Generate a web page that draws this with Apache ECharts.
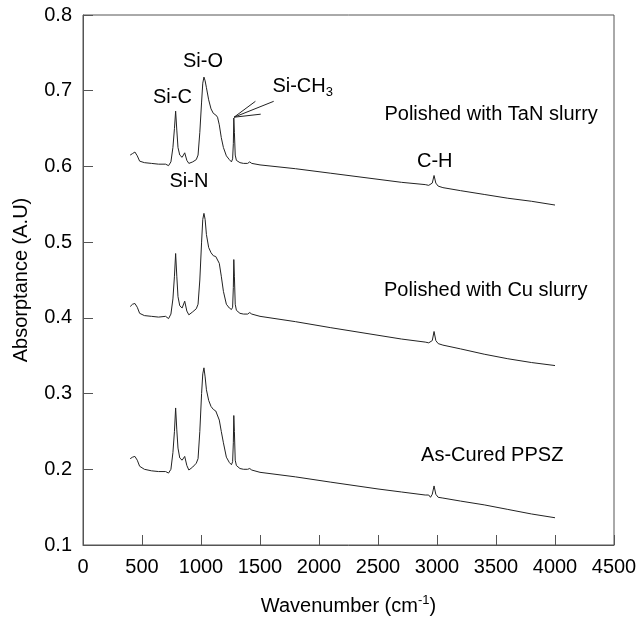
<!DOCTYPE html>
<html>
<head>
<meta charset="utf-8" />
<title>FTIR spectra</title>
<style>
  html, body { margin: 0; padding: 0; background: #fff; }
  #chartBox { width: 640px; height: 624px; }
</style>
</head>
<body>
<div id="chartBox"></div>
<script src="https://cdn.jsdelivr.net/npm/echarts@6/dist/echarts.min.js"></script>
<script>
// wavenumber grid (cm-1), shared by the three spectra
var wavenumber = [400, 420, 440, 460, 480, 520, 580, 640, 700, 725, 745, 762, 775, 785, 795, 805, 820, 840, 862, 880,
  897, 930, 960, 975, 990, 1005, 1015, 1025, 1035, 1046, 1065, 1085, 1105, 1125, 1140, 1155, 1172, 1190, 1215, 1240,
  1258, 1268, 1274, 1278, 1283, 1290, 1300, 1330, 1360, 1395, 1413, 1430, 1500, 1800, 2100, 2500, 2700, 2900, 2930, 2945,
  2960, 2975, 2990, 3010, 3050, 3200, 3400, 3600, 3800, 4000];

var tanSlurry = [0.615, 0.617, 0.619, 0.614, 0.607, 0.605, 0.604, 0.603, 0.603, 0.601, 0.606, 0.625, 0.650, 0.673, 0.648, 0.625, 0.615, 0.612, 0.618, 0.608,
  0.604, 0.606, 0.609, 0.615, 0.645, 0.685, 0.710, 0.718, 0.713, 0.704, 0.688, 0.676, 0.670, 0.668, 0.665, 0.655, 0.638, 0.625, 0.614, 0.609,
  0.606, 0.610, 0.630, 0.664, 0.645, 0.615, 0.608, 0.605, 0.604, 0.604, 0.606, 0.604, 0.602, 0.597, 0.591, 0.583, 0.579, 0.576, 0.575, 0.574,
  0.578, 0.588, 0.578, 0.574, 0.572, 0.568, 0.563, 0.558, 0.554, 0.549];

var cuSlurry = [0.415, 0.418, 0.419, 0.414, 0.406, 0.403, 0.402, 0.401, 0.402, 0.399, 0.405, 0.425, 0.455, 0.485, 0.455, 0.428, 0.416, 0.413, 0.422, 0.409,
  0.404, 0.408, 0.412, 0.418, 0.450, 0.500, 0.530, 0.538, 0.530, 0.510, 0.493, 0.486, 0.482, 0.481, 0.481, 0.472, 0.455, 0.435, 0.418, 0.413,
  0.411, 0.414, 0.440, 0.477, 0.455, 0.418, 0.410, 0.406, 0.405, 0.405, 0.407, 0.405, 0.402, 0.395, 0.387, 0.377, 0.372, 0.368, 0.367, 0.366,
  0.370, 0.382, 0.370, 0.366, 0.364, 0.359, 0.352, 0.346, 0.341, 0.337];

var asCured = [0.214, 0.216, 0.217, 0.212, 0.204, 0.200, 0.198, 0.197, 0.197, 0.195, 0.200, 0.222, 0.250, 0.281, 0.252, 0.228, 0.215, 0.212, 0.217, 0.205,
  0.199, 0.203, 0.208, 0.214, 0.250, 0.300, 0.326, 0.334, 0.322, 0.305, 0.291, 0.283, 0.279, 0.277, 0.275, 0.265, 0.250, 0.235, 0.216, 0.209,
  0.206, 0.210, 0.235, 0.271, 0.250, 0.212, 0.205, 0.201, 0.200, 0.200, 0.201, 0.199, 0.196, 0.190, 0.183, 0.174, 0.170, 0.166, 0.166, 0.163,
  0.167, 0.178, 0.167, 0.163, 0.162, 0.158, 0.153, 0.147, 0.141, 0.136];

// annotations (text, x, y in data units)
var noteText = ['Si-O', 'Si-C', 'Si-N', 'C-H', 'Polished with TaN slurry', 'Polished with Cu slurry', 'As-Cured PPSZ'];
var noteX = [1017, 758, 898, 2981, 3459, 3413, 3468];
var noteY = [0.738, 0.691, 0.580, 0.607, 0.668, 0.4355, 0.2184];

// Si-CH3 label and its three leader lines
var ch3Label = [1605, 0.704];
var leaderFrom = [1280, 0.665];
var leaderTo = [[1461, 0.686], [1616, 0.686], [1506, 0.669]];

var _font = 'Liberation Sans, Arial, sans-serif';
var _fs = 20;

function zip(xs, ys) {
  var out = [];
  for (var i = 0; i < xs.length; i++) out.push([xs[i], ys[i]]);
  return out;
}

function spectrum(name, values) {
  return {
    name: name,
    type: 'line',
    data: zip(wavenumber, values),
    showSymbol: false,
    symbol: 'none',
    smooth: false,
    lineStyle: { color: '#222', width: 1 },
    z: 3
  };
}

var notes = [];
for (var i = 0; i < noteText.length; i++) {
  notes.push({ name: noteText[i], value: [noteX[i], noteY[i]] });
}
notes.push({
  name: 'Si-CH3',
  value: ch3Label,
  label: { align: 'left', formatter: '{n|Si-CH}{s|3}' }
});

var leaders = [];
for (var j = 0; j < leaderTo.length; j++) {
  leaders.push({ coords: [leaderFrom, leaderTo[j]] });
}

var myChart = echarts.init(document.getElementById('chartBox'));
var option = {
  animation: false,
  backgroundColor: '#fff',
  textStyle: { fontFamily: _font },
  grid: { left: 83, right: 26, top: 15, bottom: 77, containLabel: false,
    show: true, borderColor: '#555', borderWidth: 1 },
  xAxis: {
    type: 'value', min: 0, max: 4500, interval: 500,
    name: '{n|Wavenumber (cm}{s|-1}{n|)}',
    nameLocation: 'middle', nameGap: 49,
    nameTextStyle: {
      rich: {
        n: { fontSize: _fs, fontFamily: _font, color: '#000', lineHeight: 22, verticalAlign: 'bottom' },
        s: { fontSize: 13, fontFamily: _font, color: '#000', lineHeight: 13, padding: [0, 0, 12, 0], verticalAlign: 'top' }
      }
    },
    axisLine: { lineStyle: { color: '#555' } },
    axisTick: { inside: true, length: 10, lineStyle: { color: '#555' } },
    axisLabel: { fontSize: _fs, fontFamily: _font, color: '#000', margin: 12,
      formatter: function (v) { return String(v); } },
    splitLine: { show: false }
  },
  yAxis: {
    type: 'value', min: 0.1, max: 0.8, interval: 0.1,
    name: 'Absorptance (A.U)',
    nameLocation: 'middle', nameGap: 52,
    nameTextStyle: { fontSize: _fs, fontFamily: _font, color: '#000' },
    axisLine: { show: true, lineStyle: { color: '#555' } },
    axisTick: { show: true, inside: true, length: 10, lineStyle: { color: '#555' } },
    axisLabel: { fontSize: _fs, fontFamily: _font, color: '#000', margin: 11,
      formatter: function (v) { return v.toFixed(1); } },
    splitLine: { show: false }
  },
  series: [
    spectrum('Polished with TaN slurry', tanSlurry),
    spectrum('Polished with Cu slurry', cuSlurry),
    spectrum('As-Cured PPSZ', asCured),
    {
      type: 'lines',
      coordinateSystem: 'cartesian2d',
      data: leaders,
      lineStyle: { color: '#222', width: 1, opacity: 1 },
      z: 4
    },
    {
      type: 'scatter',
      data: notes,
      symbolSize: 0,
      itemStyle: { opacity: 1 },
      label: {
        show: true,
        position: 'inside',
        color: '#000',
        textBorderWidth: 0,
        fontSize: _fs,
        fontFamily: _font,
        formatter: '{b}',
        rich: {
          n: { fontSize: _fs, fontFamily: _font, color: '#000', lineHeight: 22, verticalAlign: 'top' },
          s: { fontSize: 13, fontFamily: _font, color: '#000', lineHeight: 13, padding: [15, 0, 0, 0], verticalAlign: 'bottom' }
        }
      },
      z: 5
    }
  ]
};
myChart.setOption(option);
</script>
</body>
</html>
